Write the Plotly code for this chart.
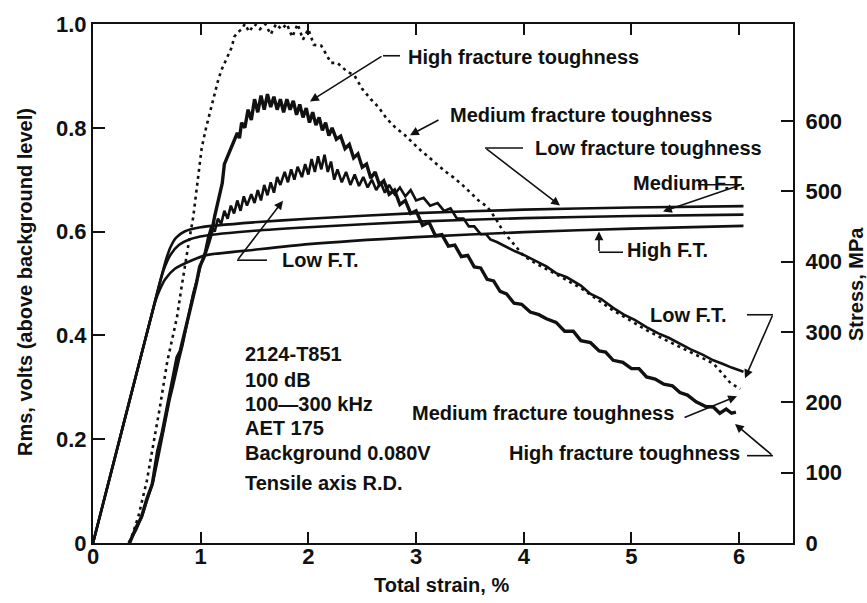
import plotly.graph_objects as go

# ---------------- data ----------------
# RMS curve, high fracture toughness (thick solid)
strain_high = [0.34, 0.40, 0.45, 0.50, 0.55, 0.60, 0.64, 0.67, 0.70, 0.73, 0.76, 0.78, 0.81, 0.85,
               0.88, 0.92, 0.96, 0.99, 1.03, 1.07, 1.10, 1.13, 1.16, 1.18, 1.20, 1.22, 1.25, 1.28,
               1.31, 1.34, 1.36, 1.38, 1.41, 1.44, 1.47, 1.50, 1.53, 1.56, 1.59, 1.62, 1.65, 1.68,
               1.71, 1.74, 1.77, 1.80, 1.83, 1.86, 1.89, 1.92, 1.95, 1.98, 2.01, 2.04, 2.07, 2.10,
               2.13, 2.16, 2.19, 2.22, 2.26, 2.30, 2.34, 2.38, 2.42, 2.46, 2.50, 2.54, 2.58, 2.62,
               2.66, 2.70, 2.75, 2.80, 2.85, 2.90, 2.95, 3.00, 3.06, 3.12, 3.18, 3.24, 3.30, 3.36,
               3.42, 3.48, 3.54, 3.60, 3.66, 3.72, 3.78, 3.84, 3.91, 3.98, 4.06, 4.14, 4.21, 4.30,
               4.38, 4.46, 4.53, 4.62, 4.70, 4.76, 4.83, 4.92, 5.00, 5.07, 5.14, 5.22, 5.30, 5.38,
               5.45, 5.52, 5.60, 5.69, 5.76, 5.82, 5.88, 5.93, 5.97]
rms_high = [0.0, 0.03, 0.05, 0.085, 0.113, 0.177, 0.21, 0.242, 0.27, 0.306, 0.335, 0.358, 0.37, 0.403,
            0.43, 0.466, 0.50, 0.532, 0.55, 0.575, 0.596, 0.63, 0.66, 0.68, 0.693, 0.73, 0.745, 0.76,
            0.775, 0.79, 0.78, 0.81, 0.80, 0.835, 0.815, 0.855, 0.83, 0.862, 0.835, 0.865, 0.84, 0.86,
            0.835, 0.855, 0.83, 0.855, 0.835, 0.852, 0.825, 0.845, 0.82, 0.838, 0.81, 0.83, 0.805, 0.82,
            0.795, 0.81, 0.785, 0.80, 0.778, 0.784, 0.76, 0.768, 0.742, 0.75, 0.724, 0.73, 0.703, 0.715,
            0.69, 0.698, 0.672, 0.68, 0.652, 0.66, 0.635, 0.64, 0.612, 0.618, 0.592, 0.594, 0.572, 0.574,
            0.552, 0.554, 0.532, 0.53, 0.508, 0.505, 0.485, 0.48, 0.462, 0.46, 0.445, 0.44, 0.432, 0.425,
            0.408, 0.408, 0.39, 0.386, 0.37, 0.368, 0.352, 0.348, 0.336, 0.336, 0.32, 0.316, 0.306, 0.303,
            0.29, 0.285, 0.272, 0.263, 0.262, 0.25, 0.258, 0.25, 0.252]

# RMS curve, low fracture toughness (wavy solid)
strain_low = [0.33, 0.40, 0.46, 0.51, 0.56, 0.61, 0.65, 0.68, 0.71, 0.74, 0.77, 0.80, 0.83, 0.86,
              0.89, 0.93, 0.97, 1.00, 1.04, 1.07, 1.10, 1.13, 1.16, 1.19, 1.22, 1.25, 1.28, 1.31,
              1.34, 1.37, 1.40, 1.43, 1.47, 1.50, 1.53, 1.56, 1.59, 1.62, 1.65, 1.68, 1.71, 1.74,
              1.78, 1.81, 1.84, 1.87, 1.90, 1.94, 1.97, 2.00, 2.03, 2.06, 2.09, 2.12, 2.15, 2.18,
              2.21, 2.24, 2.27, 2.31, 2.35, 2.39, 2.43, 2.47, 2.51, 2.55, 2.59, 2.63, 2.67, 2.71,
              2.75, 2.80, 2.85, 2.90, 2.95, 3.00, 3.07, 3.13, 3.20, 3.26, 3.32, 3.38, 3.44, 3.49,
              3.54, 3.60, 3.65, 3.69, 3.75, 3.84, 3.92, 4.00, 4.10, 4.21, 4.30, 4.40, 4.53, 4.62,
              4.72, 4.83, 4.93, 5.03, 5.14, 5.25, 5.35, 5.45, 5.55, 5.66, 5.76, 5.85, 5.93, 6.04]
rms_low = [0.0, 0.025, 0.055, 0.09, 0.12, 0.17, 0.215, 0.245, 0.275, 0.30, 0.33, 0.355, 0.38, 0.41,
           0.44, 0.48, 0.51, 0.535, 0.56, 0.59, 0.61, 0.60, 0.625, 0.615, 0.64, 0.625, 0.65, 0.635,
           0.66, 0.64, 0.668, 0.65, 0.672, 0.655, 0.68, 0.66, 0.69, 0.67, 0.695, 0.675, 0.705, 0.69,
           0.715, 0.695, 0.72, 0.70, 0.725, 0.705, 0.73, 0.71, 0.74, 0.715, 0.745, 0.72, 0.748, 0.715,
           0.735, 0.70, 0.72, 0.695, 0.715, 0.69, 0.71, 0.688, 0.705, 0.685, 0.70, 0.68, 0.695, 0.675,
           0.69, 0.672, 0.685, 0.668, 0.68, 0.66, 0.665, 0.65, 0.655, 0.64, 0.645, 0.625, 0.625, 0.61,
           0.61, 0.595, 0.595, 0.585, 0.58, 0.57, 0.562, 0.555, 0.545, 0.533, 0.52, 0.512, 0.496, 0.48,
           0.47, 0.453, 0.44, 0.43, 0.416, 0.404, 0.395, 0.384, 0.373, 0.363, 0.352, 0.345, 0.338, 0.33]

# RMS curve, medium fracture toughness (dotted)
strain_med = [0.34, 0.42, 0.50, 0.55, 0.62, 0.69, 0.74, 0.78, 0.82, 0.85, 0.89, 0.93, 0.97, 1.01,
              1.05, 1.08, 1.12, 1.16, 1.19, 1.22, 1.26, 1.29, 1.31, 1.35, 1.38, 1.41, 1.45, 1.50,
              1.55, 1.60, 1.65, 1.70, 1.75, 1.80, 1.85, 1.90, 1.95, 2.00, 2.05, 2.12, 2.17, 2.21,
              2.27, 2.35, 2.43, 2.50, 2.58, 2.65, 2.73, 2.81, 2.89, 2.97, 3.05, 3.12, 3.19, 3.27,
              3.35, 3.43, 3.51, 3.58, 3.66, 3.74, 3.81, 3.90, 4.00, 4.10, 4.21, 4.37, 4.53, 4.68,
              4.83, 4.98, 5.14, 5.30, 5.45, 5.60, 5.76, 5.85, 5.92, 6.01]
rms_med = [0.0, 0.05, 0.12, 0.177, 0.26, 0.35, 0.40, 0.435, 0.49, 0.53, 0.58, 0.627, 0.70, 0.762,
           0.80, 0.826, 0.86, 0.89, 0.91, 0.923, 0.94, 0.956, 0.975, 0.985, 0.99, 1.0, 0.985, 1.0,
           0.99, 1.0, 0.98, 1.0, 0.99, 1.0, 0.975, 1.0, 0.97, 0.99, 0.96, 0.958, 0.94, 0.925,
           0.925, 0.91, 0.90, 0.875, 0.855, 0.84, 0.817, 0.80, 0.787, 0.77, 0.755, 0.743, 0.73, 0.716,
           0.704, 0.69, 0.674, 0.66, 0.648, 0.625, 0.60, 0.578, 0.553, 0.54, 0.528, 0.51, 0.491, 0.47,
           0.448, 0.43, 0.41, 0.393, 0.378, 0.362, 0.346, 0.325, 0.308, 0.297]

# Stress-strain curves (MPa, right axis)
strain_s_top = [0.0, 0.30, 0.55, 0.62, 0.68, 0.72, 0.77, 0.85, 1.0, 1.5, 2.0, 3.0, 4.0, 5.0, 6.04]
stress_top = [0, 179, 328, 370, 404, 421, 434, 443, 449, 456, 461, 469, 474, 477, 479]
strain_s_mid = [0.0, 0.30, 0.55, 0.62, 0.66, 0.72, 0.80, 0.90, 1.04, 1.5, 2.0, 3.0, 4.0, 5.0, 6.04]
stress_mid = [0, 179, 328, 370, 390, 410, 424, 432, 437, 444, 449, 457, 462, 465, 467]
strain_s_bot = [0.0, 0.30, 0.52, 0.58, 0.62, 0.67, 0.76, 0.92, 1.04, 1.5, 2.0, 3.0, 4.0, 5.0, 6.04]
stress_bot = [0, 179, 310, 344, 360, 375, 390, 402, 409, 417, 425, 435, 442, 447, 451]

x_ticks = [0, 1, 2, 3, 4, 5, 6]
rms_ticks = [0, 0.2, 0.4, 0.6, 0.8, 1.0]
rms_tick_text = ["0", "0.2", "0.4", "0.6", "0.8", "1.0"]
stress_ticks = [0, 100, 200, 300, 400, 500, 600]

# ---------------- layout geometry (pixels) ----------------
W, H = 867, 603
PL, PR, PT, PB = 93, 793, 20, 543   # plot area edges


def fx(p):
    return (p - PL) / (PR - PL)


def fy(p):
    return (PB - p) / (PB - PT)


FONT = "Liberation Sans, Arial, Helvetica, sans-serif"
INK = "#111111"

fig = go.Figure()

fig.add_trace(go.Scatter(x=strain_s_top, y=stress_top, yaxis="y2", mode="lines",
                         line=dict(color=INK, width=2.6, shape="spline", smoothing=0.6),
                         name="Stress, low F.T."))
fig.add_trace(go.Scatter(x=strain_s_mid, y=stress_mid, yaxis="y2", mode="lines",
                         line=dict(color=INK, width=2.6, shape="spline", smoothing=0.6),
                         name="Stress, medium F.T."))
fig.add_trace(go.Scatter(x=strain_s_bot, y=stress_bot, yaxis="y2", mode="lines",
                         line=dict(color=INK, width=2.6, shape="spline", smoothing=0.6),
                         name="Stress, high F.T."))
fig.add_trace(go.Scatter(x=strain_med, y=rms_med, mode="lines",
                         line=dict(color=INK, width=2.6, dash="3px,4px"),
                         name="Rms, medium fracture toughness"))
fig.add_trace(go.Scatter(x=strain_low, y=rms_low, mode="lines",
                         line=dict(color=INK, width=2.6),
                         name="Rms, low fracture toughness"))
fig.add_trace(go.Scatter(x=strain_high, y=rms_high, mode="lines",
                         line=dict(color=INK, width=3.4),
                         name="Rms, high fracture toughness"))

txt_font = dict(family=FONT, size=20, color=INK, weight="bold")

# text labels: (text, left px, center py)
labels = [
    ("High fracture toughness", 406, 53),
    ("Medium fracture toughness", 448, 112),
    ("Low fracture toughness", 533, 145),
    ("Medium F.T.", 631, 180),
    ("High F.T.", 625, 248),
    ("Low F.T.", 280, 258),
    ("Low F.T.", 648, 313),
    ("Medium fracture toughness", 410, 412),
    ("High fracture toughness", 507, 452),
    ("2124-T851", 243, 353),
    ("100 dB", 243, 379),
    ("100\u2014300 kHz", 243, 403),
    ("AET 175", 243, 427),
    ("Background 0.080V", 243, 452),
    ("Tensile axis R.D.", 243, 483),
]
annotations = []
for t, lx, cy in labels:
    annotations.append(dict(text=t, x=fx(lx), y=fy(cy), xref="paper", yref="paper",
                            xanchor="left", yanchor="middle", showarrow=False, font=txt_font))

# arrows: (tail px, tail py, tip px, tip py)
arrows = [
    (383, 52, 310, 98),
    (440, 116, 410, 132),
    (485, 145, 560, 203),
    (742, 182, 663, 209),
    (599, 250, 599, 229),
    (237, 258, 283, 198),
    (683, 417, 737, 395),
    (773, 455, 735, 423),
    (773, 313, 745, 377),
]
for tx, ty, hx, hy in arrows:
    annotations.append(dict(text="", x=fx(hx), y=fy(hy), xref="paper", yref="paper",
                            ax=tx - hx, ay=ty - hy, showarrow=True, arrowhead=2,
                            arrowsize=1.1, arrowwidth=1.6, arrowcolor=INK,
                            standoff=0, startstandoff=0))

# axis titles
title_font = dict(family=FONT, size=20, color=INK, weight="bold")
annotations.append(dict(text="Total strain, %", x=fx(441), y=fy(585), xref="paper", yref="paper",
                        showarrow=False, font=title_font, xanchor="center", yanchor="middle"))
annotations.append(dict(text="Rms, volts (above background level)", x=fx(25), y=fy(280),
                        xref="paper", yref="paper", showarrow=False, font=title_font,
                        textangle=-90, xanchor="center", yanchor="middle"))
annotations.append(dict(text="Stress, MPa", x=fx(856), y=fy(282), xref="paper", yref="paper",
                        showarrow=False, font=title_font, textangle=-90,
                        xanchor="center", yanchor="middle"))

# elbow connector segments (px)
segments = [
    (400, 52, 383, 52),
    (523, 145, 485, 145),
    (698, 182, 742, 182),
    (623, 250, 599, 250),
    (267, 258, 237, 258),
    (747, 455, 773, 455),
    (747, 313, 773, 313),
]
shapes = []
for x0, y0, x1, y1 in segments:
    shapes.append(dict(type="line", xref="paper", yref="paper",
                       x0=fx(x0), y0=fy(y0), x1=fx(x1), y1=fy(y1),
                       line=dict(color=INK, width=1.6)))

tick_font = dict(family=FONT, size=22, color=INK, weight="bold")
axis_common = dict(showline=True, linecolor=INK, linewidth=2, ticks="inside", tickcolor=INK,
                   tickwidth=2, showgrid=False, zeroline=False, tickfont=tick_font)

fig.update_layout(
    width=W, height=H,
    margin=dict(l=PL, r=W - PR, t=PT, b=H - PB),
    paper_bgcolor="white", plot_bgcolor="white",
    showlegend=False,
    xaxis=dict(range=[0, 6.5], tickvals=x_ticks, ticklen=11, mirror="ticks",
               ticklabelstandoff=-7, **axis_common),
    yaxis=dict(range=[0, 1.0], tickvals=rms_ticks, ticktext=rms_tick_text, ticklen=12,
               ticklabelstandoff=0, **axis_common),
    yaxis2=dict(range=[0, 738], tickvals=stress_ticks, overlaying="y", side="right",
                ticklen=12, ticklabelstandoff=6, **axis_common),
    annotations=annotations,
    shapes=shapes,
)

fig.write_html("out.html")
